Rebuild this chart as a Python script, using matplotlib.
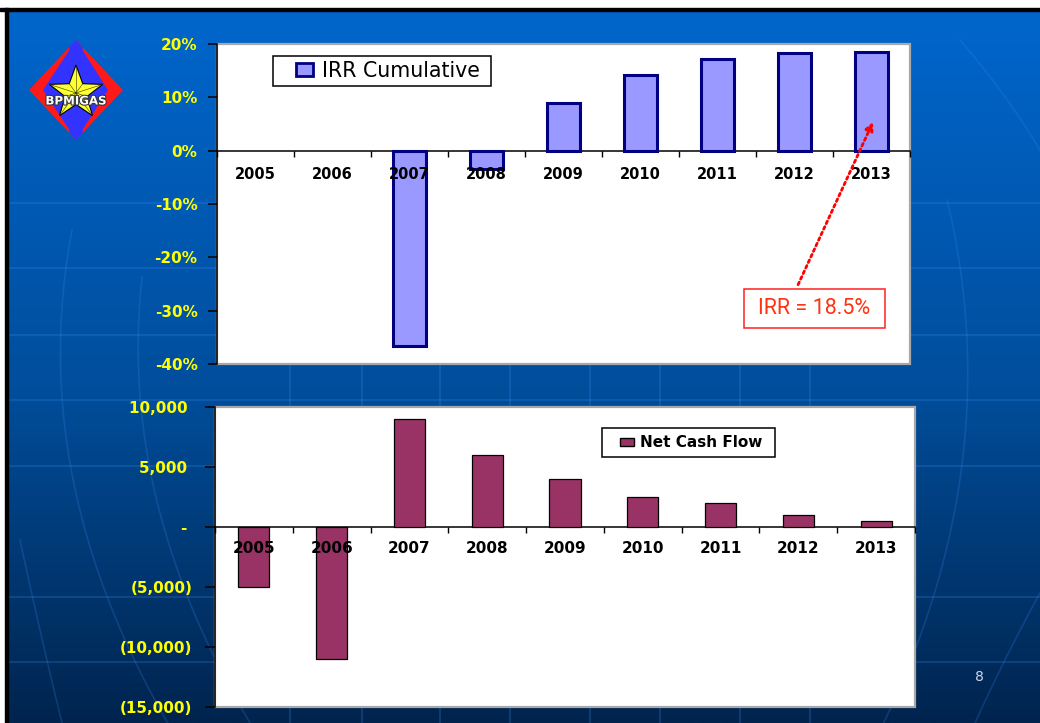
import matplotlib
matplotlib.use("Agg")
import matplotlib.pyplot as plt
import numpy as np
from matplotlib.patches import Polygon, Rectangle, Patch
from matplotlib.legend_handler import HandlerPatch
import matplotlib.patheffects as pe

# ---------------- data ----------------
years = ['2005', '2006', '2007', '2008', '2009', '2010', '2011', '2012', '2013']
irr_cumulative = [None, None, -36.6, -3.5, 8.9, 14.2, 17.1, 18.2, 18.5]   # percent
net_cash_flow = [-5000, -11000, 9000, 6000, 4000, 2500, 2000, 1000, 500]
irr_ticks = [-40, -30, -20, -10, 0, 10, 20]
irr_tick_labels = ['-40%', '-30%', '-20%', '-10%', '0%', '10%', '20%']
ncf_ticks = [-15000, -10000, -5000, 0, 5000, 10000]
ncf_tick_labels = ['(15,000)', '(10,000)', '(5,000)', '- ', '5,000 ', '10,000 ']
irr_note = 'IRR = 18.5%'

W, H = 1040, 723
fig = plt.figure(figsize=(W / 100, H / 100), dpi=100)
fig.patch.set_facecolor('white')

# ---------------- background slide ----------------
bg = fig.add_axes([0, 0, 1, 1], zorder=-10)
bg.set_xlim(0, W)
bg.set_ylim(H, 0)
bg.axis('off')
ys = np.linspace(0, 1, 400)
c_top = np.array([0, 102, 204]) / 255
c_mid = np.array([0, 78, 156]) / 255
c_bot = np.array([0, 36, 78]) / 255
grad = np.where(ys[:, None] < 0.53,
                c_top + (c_mid - c_top) * (ys[:, None] / 0.53),
                c_mid + (c_bot - c_mid) * ((ys[:, None] - 0.53) / 0.47))
bg.imshow(grad[:, None, :], extent=(7, W, H, 10), aspect='auto', zorder=0)
bg.add_patch(Rectangle((0, 7.5), W, 3.5, color='black', zorder=1))
bg.add_patch(Rectangle((4.5, 7.5), 3, H, color='black', zorder=1))

# faint globe-like grid lines
line_kw = dict(color='#3a8cf0', alpha=0.28, lw=1.2, zorder=0.5)
for yy in [203, 268, 335, 400, 466, 597, 662]:
    bg.plot([7, W], [yy, yy], **line_kw)
for xx in [290, 362, 440, 510, 590, 660, 740, 810]:
    bg.plot([xx, xx], [365, 723], **line_kw)
curves = [
    ([72, 62, 60, 83, 110, 167], [230, 330, 380, 530, 597, 723]),
    ([145, 138, 135, 167, 213, 245], [277, 330, 380, 553, 630, 723]),
    ([20, 40, 62], [540, 630, 723]),
    ([948, 962, 968, 953, 917, 885], [200, 300, 380, 537, 633, 723]),
    ([1040, 1010, 975], [593, 650, 723]),
    ([960, 1000, 1040], [40, 90, 150]),
]
for cx, cy in curves:
    coef = np.polyfit(cy, cx, 2)
    yy = np.linspace(min(cy), max(cy), 100)
    bg.plot(np.polyval(coef, yy), yy, color='#3a8cf0', alpha=0.22, lw=1.2, zorder=0.5)

# ---------------- logo ----------------
cx0, cy0 = 76, 90
bg.add_patch(Polygon([(cx0, 40), (123, cy0), (cx0, 140), (29, cy0)],
                     closed=True, facecolor='#FF1A1A', edgecolor='none', zorder=2))
bg.add_patch(Polygon([(cx0, 40), (108, cy0), (cx0, 140), (43, cy0)],
                     closed=True, facecolor='#3333FF', edgecolor='none', zorder=3))
bg.add_patch(Polygon([(69.3, 47.1), (cx0, 40), (82.7, 47.1), (82.7, 132.9),
                      (cx0, 140), (69.3, 132.9)],
                     closed=True, facecolor='#3333FF', edgecolor='none', zorder=3))
ang = np.pi / 2 + np.arange(10) * np.pi / 5
rad = np.where(np.arange(10) % 2 == 0, 28, 11.5)
star = np.column_stack([cx0 + rad * np.cos(ang), 93 - rad * np.sin(ang)])
bg.add_patch(Polygon(star, closed=True, facecolor='#FFFF33', edgecolor='black',
                     lw=0.8, zorder=4))
for k in range(0, 10):
    bg.plot([cx0, star[k, 0]], [93, star[k, 1]], color='#333300', lw=0.4, zorder=4)
bg.text(cx0, 101, 'BPMIGAS', ha='center', va='center', color='white',
        fontsize=8.5, fontweight='bold', family='DejaVu Sans', zorder=5,
        path_effects=[pe.withStroke(linewidth=1.5, foreground='#333333')])

fig.text(979 / W, 1 - 677 / H, '8', color='#D0D8E8', fontsize=10,
         ha='center', va='center', family='DejaVu Sans')


class SquareHandler(HandlerPatch):
    def __init__(self, fw, fh, **kw):
        super().__init__(**kw)
        self.fw, self.fh = fw, fh

    def create_artists(self, legend, orig_handle, xdescent, ydescent,
                       width, height, fontsize, trans):
        w = width * self.fw
        h = height * self.fh
        p = Rectangle((-xdescent + width - w, -ydescent + (height - h) / 2), w, h,
                      facecolor=orig_handle.get_facecolor(),
                      edgecolor=orig_handle.get_edgecolor(),
                      lw=orig_handle.get_linewidth(), transform=trans)
        return [p]


def style_axes(ax, ylim, yticks, ylabels, ytick_len, ylab_pad, xlab_pad, xlab_size):
    n = len(years)
    ax.set_facecolor('white')
    ax.set_xlim(-0.5, n - 0.5)
    ax.set_ylim(*ylim)
    ax.spines['top'].set_visible(False)
    ax.spines['right'].set_visible(False)
    ax.spines['bottom'].set_position(('data', 0))
    ax.spines['bottom'].set_color('black')
    ax.spines['bottom'].set_linewidth(1.1)
    ax.spines['left'].set_color('black')
    ax.spines['left'].set_linewidth(1.1)
    ax.add_patch(Rectangle((0, 0), 1, 1, transform=ax.transAxes, fill=False,
                           edgecolor='#A8A8A8', lw=1.6, zorder=1, clip_on=False))
    ax.set_xticks(np.arange(-0.5, n, 1))
    ax.set_xticklabels([])
    ax.set_xticks(np.arange(n), minor=True)
    ax.set_xticklabels(years, minor=True)
    ax.tick_params(axis='x', which='major', direction='out', length=4, width=1,
                   color='black')
    ax.tick_params(axis='x', which='minor', length=0, pad=xlab_pad)
    for t in ax.get_xticklabels(minor=True):
        t.set_fontweight('bold')
        t.set_fontsize(xlab_size)
        t.set_family('DejaVu Sans')
        t.set_color('black')
    ax.set_yticks(yticks)
    ax.set_yticklabels(ylabels)
    ax.tick_params(axis='y', direction='out', length=ytick_len, width=1.1,
                   color='black', pad=ylab_pad)
    for t in ax.get_yticklabels():
        t.set_fontweight('bold')
        t.set_fontsize(11)
        t.set_family('DejaVu Sans')
        t.set_color('#FFFF00')
    ax.xaxis.set_zorder(4)
    ax.yaxis.set_zorder(4)


# ---------------- top chart: IRR cumulative ----------------
ax1 = fig.add_axes([217 / W, 1 - 364.3 / H, 693 / W, 320.6 / H])
style_axes(ax1, (-40, 20), irr_ticks, irr_tick_labels, 6.5, 7.5, 11.5, 10.5)
idx = [i for i, v in enumerate(irr_cumulative) if v is not None]
vals = [irr_cumulative[i] for i in idx]
ax1.bar(idx, vals, width=0.44, color='#9999FF', edgecolor='#000080',
        linewidth=2.2, zorder=3)
h1 = Patch(facecolor='#9999FF', edgecolor='#000080', lw=2, label='IRR Cumulative ')
leg1 = ax1.legend(handles=[h1], loc='upper left', bbox_to_anchor=(0.0808, 0.9626),
                  borderaxespad=0, borderpad=0.25, handlelength=1.72,
                  handleheight=0.7, handletextpad=0.4, fancybox=False,
                  framealpha=1, edgecolor='black',
                  prop={'family': 'DejaVu Sans', 'size': 14.8},
                  handler_map={Patch: SquareHandler(0.5, 0.9)})
leg1.get_frame().set_linewidth(1.1)
leg1.set_zorder(6)

# annotation
ax1.add_patch(Rectangle((0.7605, 0.1142), 0.203, 0.1216, transform=ax1.transAxes,
                        facecolor='white', edgecolor='#FF2020', lw=1.1, zorder=5))
ax1.text(0.7605 + 0.1015, 0.1142 + 0.0608, irr_note, transform=ax1.transAxes,
         ha='center', va='center', color='#FF3311', fontsize=15.5,
         family=['Roboto', 'DejaVu Sans'], zorder=6)
ax1.annotate('', xy=(8.02, 5.35), xycoords='data',
             xytext=(0.8385, 0.2483), textcoords='axes fraction',
             arrowprops=dict(arrowstyle='-|>', color='#FF0000', lw=2,
                             linestyle=(0, (1, 1.2)), mutation_scale=12,
                             shrinkA=0, shrinkB=0), zorder=6)

# ---------------- bottom chart: net cash flow ----------------
ax2 = fig.add_axes([215 / W, 1 - 706.7 / H, 700 / W, 300 / H])
style_axes(ax2, (-15000, 10000), ncf_ticks, ncf_tick_labels, 7.2, 9, 10, 11)
ax2.bar(np.arange(len(years)), net_cash_flow, width=0.4, color='#993366',
        edgecolor='black', linewidth=0.9, zorder=3)
h2 = Patch(facecolor='#993366', edgecolor='black', lw=1, label='Net Cash Flow ')
leg2 = ax2.legend(handles=[h2], loc='upper left', bbox_to_anchor=(0.5524, 0.928),
                  borderaxespad=0, borderpad=0.46, handlelength=1.65,
                  handleheight=0.7, handletextpad=0.4, fancybox=False,
                  framealpha=1, edgecolor='black',
                  prop={'family': 'DejaVu Sans', 'size': 11, 'weight': 'bold'},
                  handler_map={Patch: SquareHandler(0.54, 0.75)})
leg2.get_frame().set_linewidth(1.1)
leg2.set_zorder(6)

fig.savefig('out.png', dpi=100, facecolor=fig.get_facecolor())
